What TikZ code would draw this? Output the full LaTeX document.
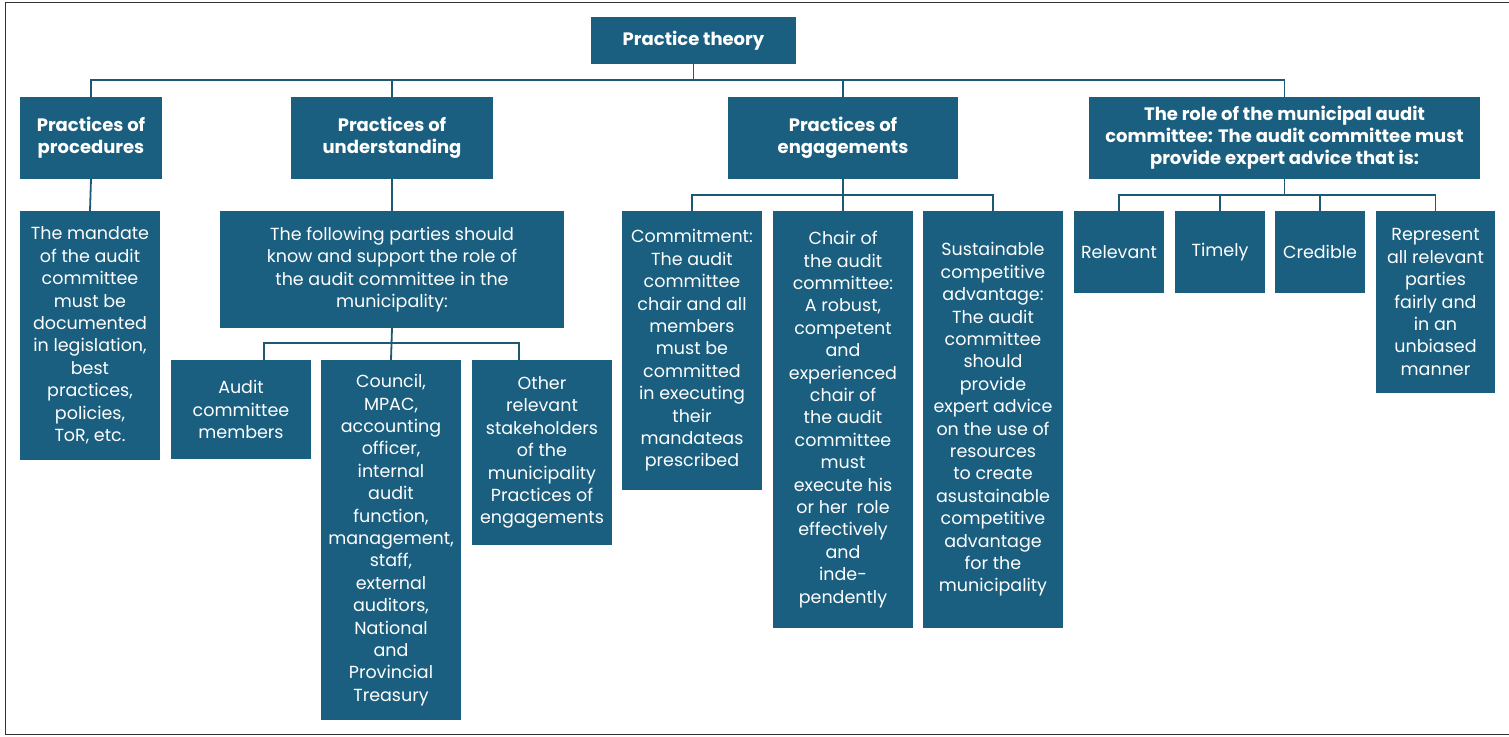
\documentclass[tikz,border=0pt]{standalone}
\usepackage{fontspec}
\setmainfont{Poppins}
\definecolor{acblue}{HTML}{1A5F80}
\definecolor{acline}{HTML}{1D5875}
\definecolor{frame}{HTML}{333333}
\begin{document}
\begin{tikzpicture}[x=1pt,y=-1pt,
  box/.style={fill=acblue, text=white, align=center, inner sep=0pt,
    font=\fontsize{17.5}{22.4}\selectfont},
  head/.style={box, font=\bfseries\fontsize{18}{22}\selectfont},
  conn/.style={draw=acline, line width=1.8pt}]
\useasboundingbox (0,0) rectangle (1509,736);
% outer frame
\draw[frame, line width=1.3pt] (1509,2.5) -- (5.5,2.5) -- (5.5,734.5) -- (1509,734.5);

% bus junctions
\coordinate (topbus) at (693.5,80);
\coordinate (ubus) at (391,343);
\coordinate (audtop) at (264,360);
\coordinate (othtop) at (519,360);
\coordinate (ebus) at (843,195);
\coordinate (rbus) at (1284.5,195);

% first level
\node[head, minimum width=205pt, minimum height=47pt] (theory) at (693.5,40.5) {Practice theory};
\node[head, minimum width=142pt, minimum height=82pt] (proc) at (91,138) {Practices of\\procedures};
\node[head, minimum width=202pt, minimum height=82pt] (und) at (392,138) {Practices of\\understanding};
\node[head, minimum width=230pt, minimum height=82pt] (eng) at (843,138) {Practices of\\engagements};
\node[head, minimum width=391pt, minimum height=82pt] (role) at (1284.5,138) {The role of the municipal audit\\committee: The audit committee must\\provide expert advice that is:};

% procedures branch
\node[box, minimum width=140pt, minimum height=249pt] (mandate) at (90,335.5) {The mandate\\of the audit\\committee\\must be\\documented\\in legislation,\\best\\practices,\\policies,\\ToR, etc.};

% understanding branch
\node[box, minimum width=344pt, minimum height=117pt] (parties) at (392,269.5) {The following parties should\\know and support the role of\\the audit committee in the\\municipality:};
\node[box, minimum width=140pt, minimum height=99pt] (aud) at (241,409.5) {Audit\\committee\\members};
\node[box, minimum width=140pt, minimum height=360pt] (council) at (391,540) {Council,\\MPAC,\\accounting\\officer,\\internal\\audit\\function,\\management,\\staff,\\external\\auditors,\\National\\and\\Provincial\\Treasury};
\node[box, minimum width=140pt, minimum height=185pt] (other) at (542,452.5) {Other\\relevant\\stakeholders\\of the\\municipality\\Practices of\\engagements};

% engagements branch
\node[box, minimum width=140pt, minimum height=279pt] (commit) at (692,350.5) {Commitment:\\The audit\\committee\\chair and all\\members\\must be\\committed\\in executing\\their\\mandateas\\prescribed};
\node[box, minimum width=140pt, minimum height=417pt] (chair) at (843,419.5) {Chair of\\the audit\\committee:\\A robust,\\competent\\and\\experienced\\chair of\\the audit\\committee\\must\\execute his\\or her\ \ role\\effectively\\and\\inde-\\pendently};
\node[box, minimum width=140pt, minimum height=417pt] (sust) at (993,419.5) {Sustainable\\competitive\\advantage:\\The audit\\committee\\should\\provide\\expert advice\\on the use of\\resources\\to create\\asustainable\\competitive\\advantage\\for the\\municipality};

% role branch
\node[box, minimum width=90pt, minimum height=82pt] (relevant) at (1119,252) {Relevant};
\node[box, minimum width=90pt, minimum height=82pt] (timely) at (1220,252) {Timely};
\node[box, minimum width=90pt, minimum height=82pt] (credible) at (1320,252) {Credible};
\node[box, minimum width=119pt, minimum height=182pt] (represent) at (1435.5,302) {Represent\\all relevant\\parties\\fairly and\\in an\\unbiased\\manner};

% tree lines
\draw[conn] (theory.south) -- (topbus);
\draw[conn] (proc.north) |- (topbus) -| (role.north);
\draw[conn] (und.north) -- (und.north |- topbus);
\draw[conn] (eng.north) -- (eng.north |- topbus);
\draw[conn] (proc.south) -- (mandate.north);
\draw[conn] (und.south) -- (parties.north);
\draw[conn] (parties.south) -- (council.north);
\draw[conn] (audtop) |- (ubus) -| (othtop);
\draw[conn] (eng.south) -- (chair.north);
\draw[conn] (commit.north) |- (ebus) -| (sust.north);
\draw[conn] (role.south) -- (rbus);
\draw[conn] (relevant.north) |- (rbus) -| (represent.north);
\draw[conn] (timely.north) -- (timely.north |- rbus);
\draw[conn] (credible.north) -- (credible.north |- rbus);
\end{tikzpicture}
\end{document}
